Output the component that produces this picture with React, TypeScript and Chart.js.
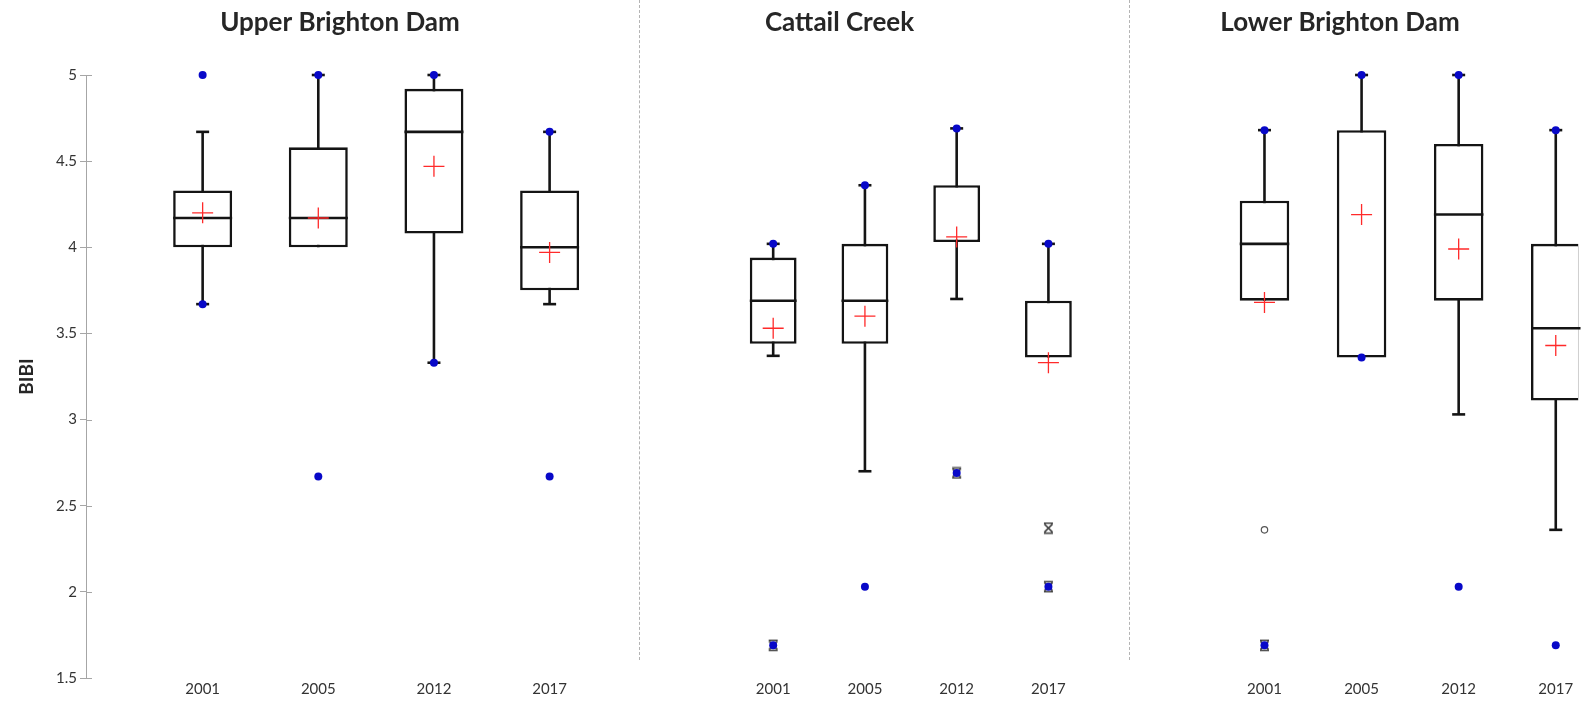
import { useEffect, useRef } from 'react';
import { Chart, registerables } from 'chart.js';

Chart.register(...registerables);

const FONT = 'Lato, "Open Sans", sans-serif';
Chart.defaults.font.family = FONT;

const YEARS = ['2001', '2005', '2012', '2017'];
const SITE_NAMES = ['Upper Brighton Dam', 'Cattail Creek', 'Lower Brighton Dam'];

// Upper Brighton Dam
const upperQ1 = [4.0, 4.0, 4.08, 3.75];
const upperMedian = [4.17, 4.17, 4.67, 4.0];
const upperQ3 = [4.33, 4.58, 4.92, 4.33];
const upperWhiskerLow = [3.67, 4.0, 3.33, 3.67];
const upperWhiskerHigh = [4.67, 5.0, 5.0, 4.67];
const upperMean = [4.2, 4.17, 4.47, 3.97];
const upperMin = [3.67, 2.67, 3.33, 2.67];
const upperMax = [5.0, 5.0, 5.0, 4.67];
const upperStars: number[][] = [[], [], [], []];
const upperRings: number[][] = [[], [], [], []];

// Cattail Creek
const cattailQ1 = [3.44, 3.44, 4.03, 3.36];
const cattailMedian = [3.69, 3.69, 4.03, 3.36];
const cattailQ3 = [3.94, 4.02, 4.36, 3.69];
const cattailWhiskerLow = [3.37, 2.7, 3.7, 3.36];
const cattailWhiskerHigh = [4.02, 4.36, 4.69, 4.02];
const cattailMean = [3.53, 3.6, 4.06, 3.33];
const cattailMin = [1.69, 2.03, 2.69, 2.03];
const cattailMax = [4.02, 4.36, 4.69, 4.02];
const cattailStars: number[][] = [[1.69], [], [2.69], [2.37, 2.03]];
const cattailRings: number[][] = [[], [], [], []];

// Lower Brighton Dam
const lowerQ1 = [3.69, 3.36, 3.69, 3.11];
const lowerMedian = [4.02, 4.68, 4.19, 3.53];
const lowerQ3 = [4.27, 4.68, 4.6, 4.02];
const lowerWhiskerLow = [3.69, 3.36, 3.03, 2.36];
const lowerWhiskerHigh = [4.68, 5.0, 5.0, 4.68];
const lowerMean = [3.68, 4.19, 3.99, 3.43];
const lowerMin = [1.69, 3.36, 2.03, 1.69];
const lowerMax = [4.68, 5.0, 5.0, 4.68];
const lowerStars: number[][] = [[1.69], [], [], []];
const lowerRings: number[][] = [[2.36], [], [], []];

const Y_MIN = 1.5;
const Y_MAX = 5;
const Y_STEP = 0.5;

type Site = {
  name: string;
  q1: number[];
  median: number[];
  q3: number[];
  lo: number[];
  hi: number[];
  mean: number[];
  min: number[];
  max: number[];
  stars: number[][];
  rings: number[][];
};

const SITES: Site[] = [
  { name: SITE_NAMES[0], q1: upperQ1, median: upperMedian, q3: upperQ3, lo: upperWhiskerLow, hi: upperWhiskerHigh, mean: upperMean, min: upperMin, max: upperMax, stars: upperStars, rings: upperRings },
  { name: SITE_NAMES[1], q1: cattailQ1, median: cattailMedian, q3: cattailQ3, lo: cattailWhiskerLow, hi: cattailWhiskerHigh, mean: cattailMean, min: cattailMin, max: cattailMax, stars: cattailStars, rings: cattailRings },
  { name: SITE_NAMES[2], q1: lowerQ1, median: lowerMedian, q3: lowerQ3, lo: lowerWhiskerLow, hi: lowerWhiskerHigh, mean: lowerMean, min: lowerMin, max: lowerMax, stars: lowerStars, rings: lowerRings },
];

// Canvas placement and x-range of each panel
const FRAMES = [
  { left: 0, width: 680, xMin: -1.0085, xMax: 4.0254, yAxis: true },
  { left: 589, width: 501, xMin: -1.0702, xMax: 3.3246, yAxis: false },
  { left: 1090, width: 500, xMin: -0.9113, xMax: 3.2311, yAxis: false },
];

const HEIGHT = 705;
const INK = '#141414';
const AXIS_GREY = '#a6a6a6';
const TICK_TEXT = '#333333';

const pts = (vals: number[]) => vals.map((y, x) => ({ x, y }));
const flat = (lists: number[][]) => lists.flatMap((ys, x) => ys.map((y) => ({ x, y })));

// Median line across each box, drawn right after the boxes
// (skipped where the median sits on a box edge, which is already drawn)
const medianPlugin = {
  id: 'boxMedians',
  afterDatasetDraw(chart: any, args: any, opts: any) {
    const ds = chart.data.datasets[args.index];
    if (ds.role !== 'box') return;
    const y = chart.scales.y;
    const ctx = chart.ctx;
    ctx.save();
    ctx.strokeStyle = INK;
    ctx.lineWidth = 2.6;
    args.meta.data.forEach((bar: any, i: number) => {
      const m = opts.values[i];
      if (m <= opts.q1[i] || m >= opts.q3[i]) return;
      const py = y.getPixelForValue(m);
      const half = bar.width / 2;
      ctx.beginPath();
      ctx.moveTo(bar.x - half, py);
      ctx.lineTo(bar.x + half, py);
      ctx.stroke();
    });
    ctx.restore();
  },
};

// Tick marks that cross the y axis line
const innerTicksPlugin = {
  id: 'innerTicks',
  afterDraw(chart: any) {
    const y = chart.scales.y;
    if (!y.options.display) return;
    const ctx = chart.ctx;
    const x0 = chart.chartArea.left;
    ctx.save();
    ctx.strokeStyle = AXIS_GREY;
    ctx.lineWidth = 1;
    y.ticks.forEach((t: any) => {
      const py = Math.round(y.getPixelForValue(t.value)) + 0.5;
      ctx.beginPath();
      ctx.moveTo(x0, py);
      ctx.lineTo(x0 + 6, py);
      ctx.stroke();
    });
    ctx.restore();
  },
};

function makeHourglass(): HTMLCanvasElement {
  const c = document.createElement('canvas');
  c.width = 13;
  c.height = 13;
  const g = c.getContext('2d')!;
  g.strokeStyle = '#3a3a3a';
  g.lineWidth = 1.7;
  g.beginPath();
  g.moveTo(2.5, 2.5);
  g.lineTo(10.5, 10.5);
  g.moveTo(10.5, 2.5);
  g.lineTo(2.5, 10.5);
  g.moveTo(2, 1.5);
  g.lineTo(11, 1.5);
  g.moveTo(2, 11.5);
  g.lineTo(11, 11.5);
  g.stroke();
  return c;
}

function Panel({ site, frame }: { site: Site; frame: (typeof FRAMES)[number] }) {
  const ref = useRef<HTMLCanvasElement>(null);

  useEffect(() => {
    if (!ref.current) return;
    const hourglass = makeHourglass();
    const caps = site.lo.flatMap((lo, i) => {
      const out: { x: number; y: number }[] = [];
      if (lo < site.q1[i]) out.push({ x: i, y: lo });
      if (site.hi[i] > site.q3[i]) out.push({ x: i, y: site.hi[i] });
      return out;
    });

    const chart = new Chart(ref.current, {
      type: 'bar',
      data: {
        datasets: [
          {
            type: 'bar',
            label: 'whisker',
            data: YEARS.map((_, i) => ({ x: i, y: [site.lo[i], site.hi[i]] })) as any,
            backgroundColor: INK,
            borderWidth: 0,
            grouped: false,
            categoryPercentage: 1,
            barPercentage: 0.1,
            maxBarThickness: 2.6,
            order: 6,
          } as any,
          {
            type: 'bar',
            label: 'box',
            role: 'box',
            data: YEARS.map((_, i) => ({ x: i, y: [site.q1[i], site.q3[i]] })) as any,
            backgroundColor: '#ffffff',
            borderColor: INK,
            borderWidth: 2.6,
            borderSkipped: false,
            grouped: false,
            categoryPercentage: 1,
            barPercentage: 0.51,
            order: 5,
          } as any,
          {
            type: 'line',
            label: 'caps',
            data: caps,
            showLine: false,
            clip: false,
            pointStyle: 'line',
            pointRadius: 6.5,
            pointBorderWidth: 2.6,
            borderColor: INK,
            pointBorderColor: INK,
            order: 4,
          } as any,
          {
            type: 'line',
            label: 'rings',
            data: flat(site.rings),
            showLine: false,
            clip: false,
            pointStyle: 'circle',
            pointRadius: 3.2,
            pointBackgroundColor: '#ffffff',
            pointBorderColor: '#555555',
            pointBorderWidth: 1.2,
            order: 3,
          } as any,
          {
            type: 'line',
            label: 'stars',
            data: flat(site.stars),
            showLine: false,
            clip: false,
            pointStyle: hourglass,
            pointRadius: 6,
            order: 3,
          } as any,
          {
            type: 'line',
            label: 'mean',
            data: pts(site.mean),
            showLine: false,
            clip: false,
            pointStyle: 'cross',
            pointRadius: 10.5,
            borderColor: '#ff2a2a',
            pointBorderColor: '#ff2a2a',
            pointBorderWidth: 1.3,
            order: 2,
          } as any,
          {
            type: 'line',
            label: 'min/max',
            data: [...pts(site.min), ...pts(site.max)],
            showLine: false,
            clip: false,
            pointStyle: 'circle',
            pointRadius: 4,
            backgroundColor: '#0808c8',
            borderColor: '#0808c8',
            pointBackgroundColor: '#0808c8',
            pointBorderColor: '#0808c8',
            pointBorderWidth: 0,
            order: 1,
          } as any,
        ],
      },
      options: {
        animation: false,
        responsive: false,
        events: [],
        layout: { padding: { left: 0, right: 0, top: 0, bottom: 5 } },
        plugins: {
          legend: { display: false },
          tooltip: { enabled: false },
          title: {
            display: true,
            text: site.name,
            color: '#262626',
            font: { family: FONT, size: 26, weight: 'bold' },
            padding: { top: 7, bottom: 36.8 },
          },
          boxMedians: { values: site.median, q1: site.q1, q3: site.q3 },
        } as any,
        scales: {
          x: {
            type: 'linear',
            min: frame.xMin,
            max: frame.xMax,
            offset: false,
            grid: { display: false, drawTicks: false },
            border: { display: false },
            afterBuildTicks: (axis: any) => {
              axis.ticks = YEARS.map((_, i) => ({ value: i }));
            },
            ticks: {
              autoSkip: false,
              maxRotation: 0,
              padding: 2,
              color: TICK_TEXT,
              font: { family: FONT, size: 15 },
              callback: (v: any) => YEARS[v as number] ?? '',
            },
          },
          y: {
            type: 'linear',
            display: frame.yAxis,
            min: Y_MIN,
            max: Y_MAX,
            beginAtZero: false,
            ticks: {
              stepSize: Y_STEP,
              padding: 3,
              color: TICK_TEXT,
              font: { family: FONT, size: 15 },
              callback: (v: any) => String(Number(v)),
            },
            grid: { drawOnChartArea: false, drawTicks: true, tickLength: 6, color: AXIS_GREY },
            border: { display: true, color: AXIS_GREY },
            title: {
              display: true,
              text: 'BIBI',
              color: '#262626',
              font: { family: FONT, size: 19, weight: 'bold' },
              padding: { top: 15, bottom: 0 },
            },
            afterFit: (s: any) => {
              s.width = 86;
            },
          },
        } as any,
      },
      plugins: [medianPlugin, innerTicksPlugin],
    });
    return () => chart.destroy();
  }, [site, frame]);

  return (
    <canvas
      ref={ref}
      width={frame.width}
      height={HEIGHT}
      style={{ position: 'absolute', left: frame.left, top: 0, width: frame.width, height: HEIGHT }}
    />
  );
}

const separator = (x: number): React.CSSProperties => ({
  position: 'absolute',
  left: x,
  top: 0,
  height: 660,
  width: 0,
  borderLeft: '1px dashed #b4b4b4',
});

export default function App() {
  return (
    <div
      style={{
        position: 'absolute',
        left: 0,
        top: 0,
        width: 1587,
        height: HEIGHT,
        overflow: 'hidden',
        background: '#ffffff',
      }}
    >
      <div style={separator(639)} />
      <div style={separator(1129)} />
      {SITES.map((site, i) => (
        <Panel key={site.name} site={site} frame={FRAMES[i]} />
      ))}
    </div>
  );
}
